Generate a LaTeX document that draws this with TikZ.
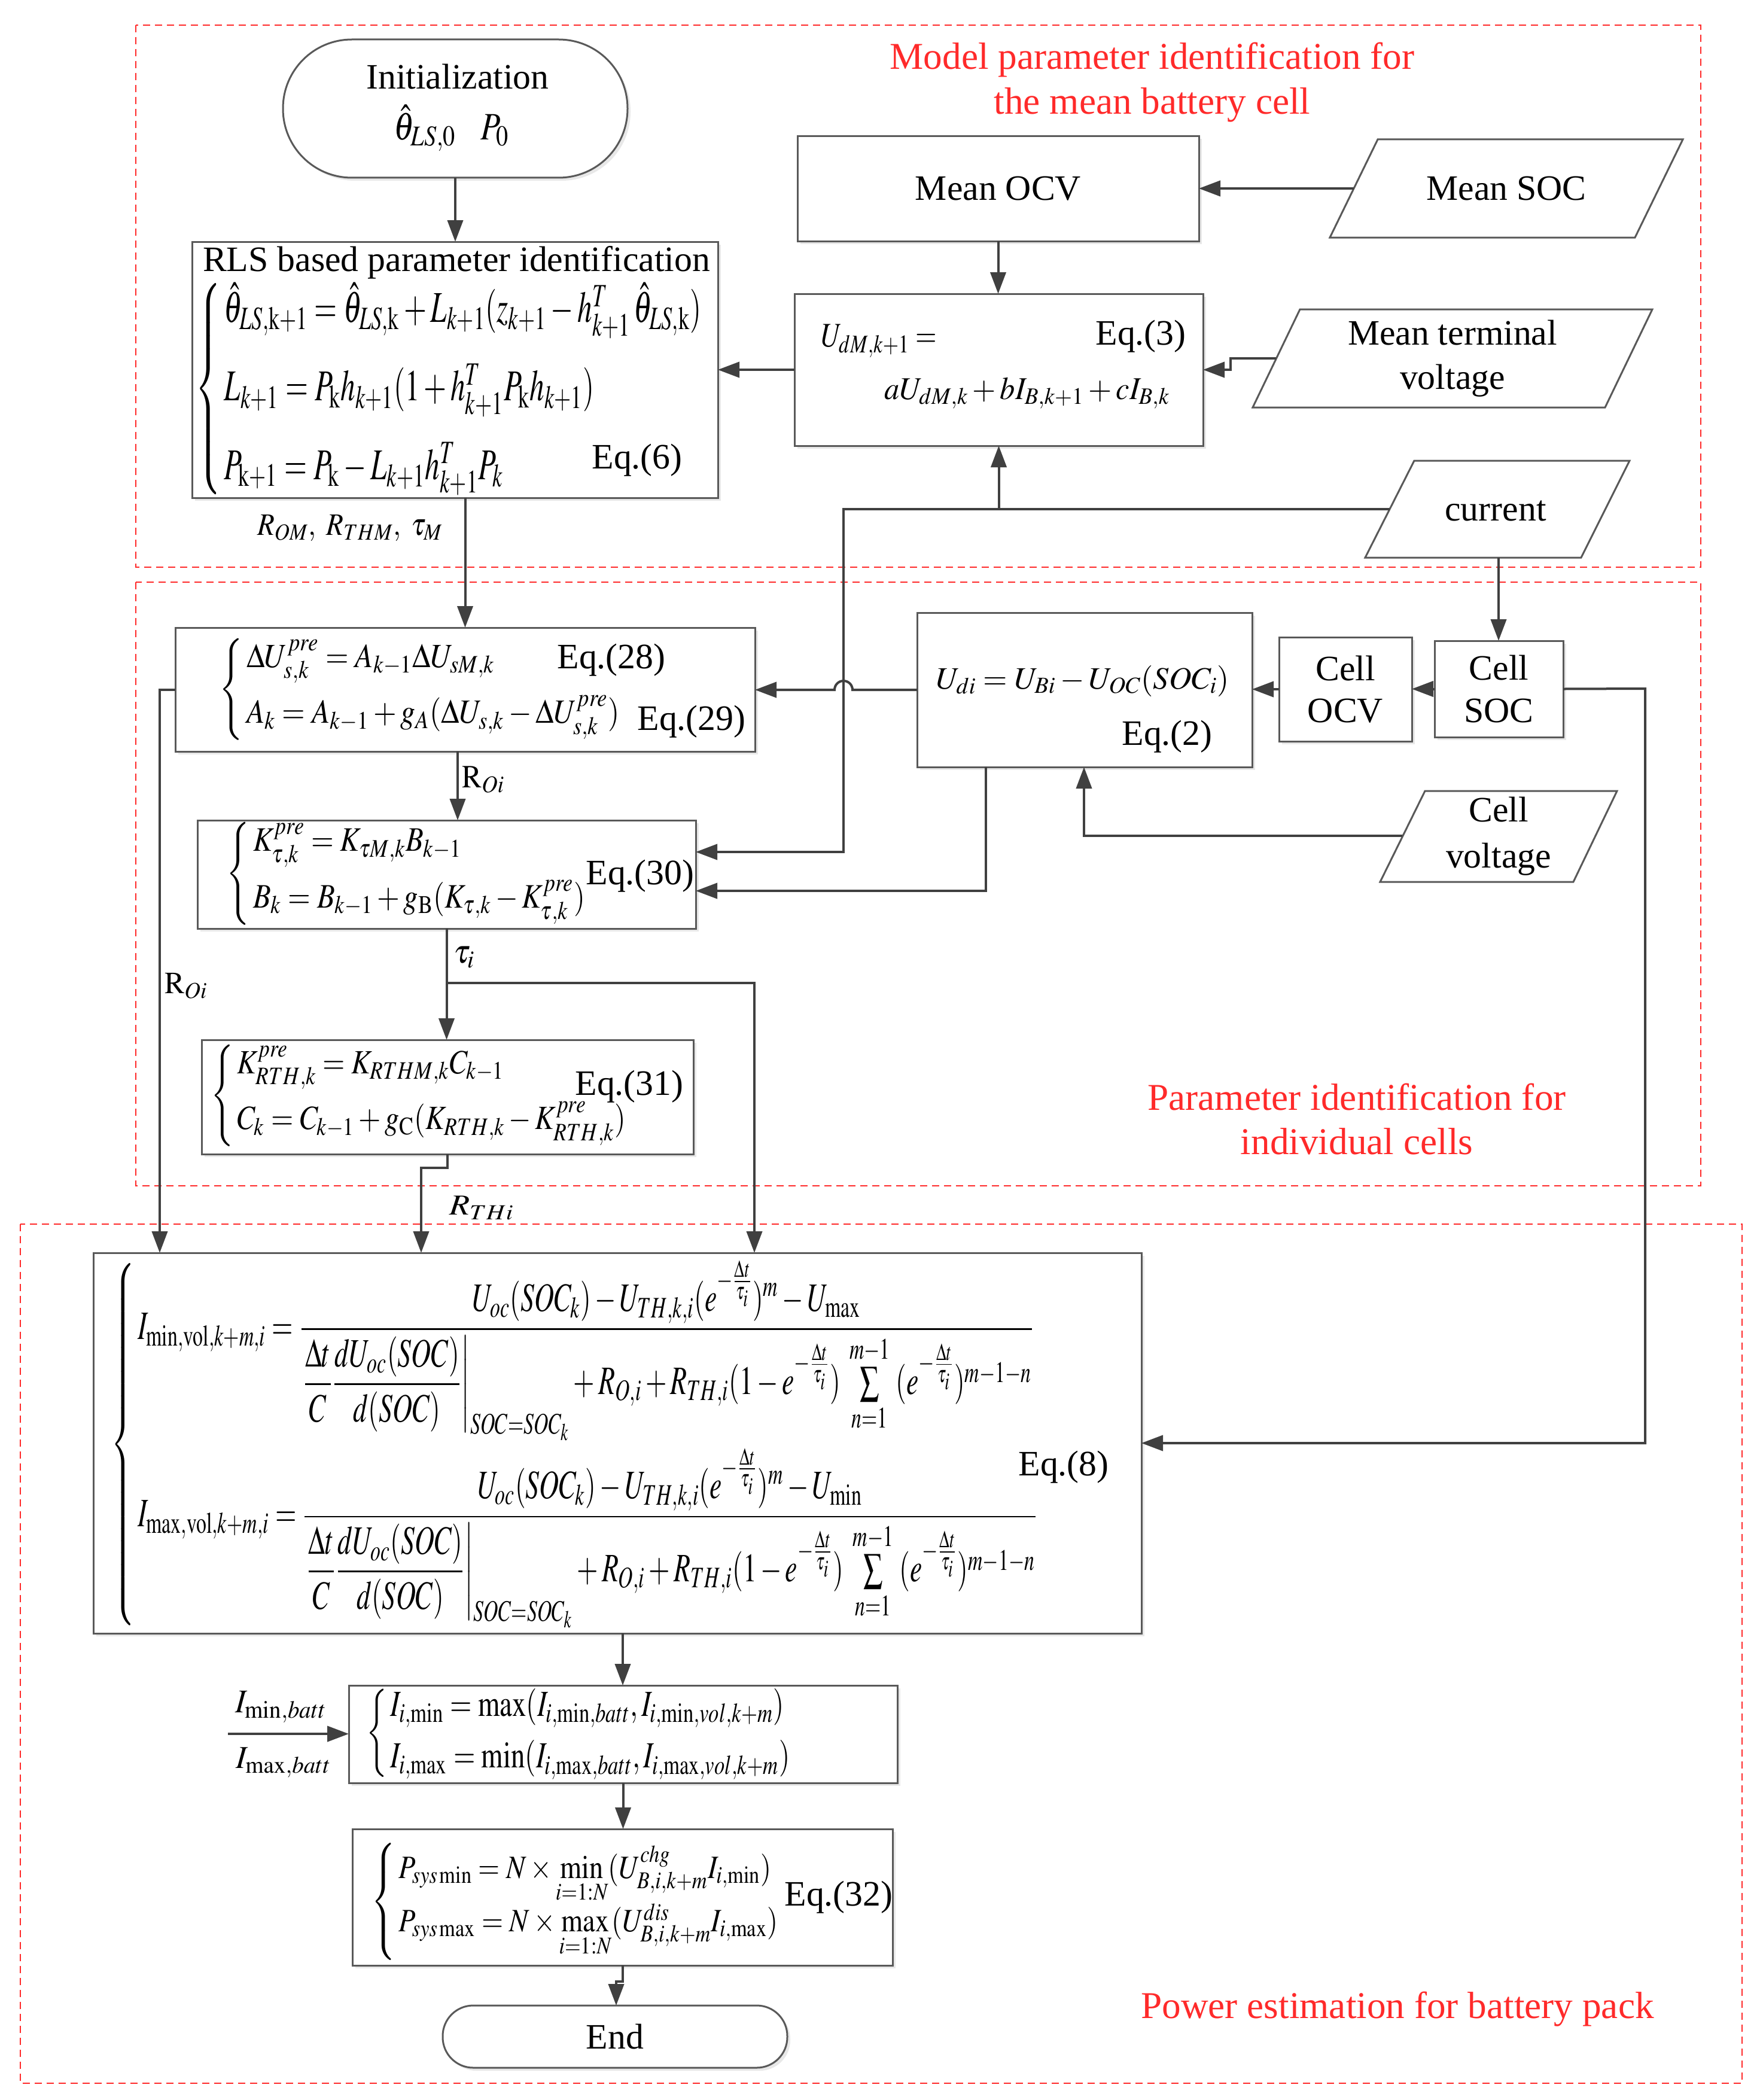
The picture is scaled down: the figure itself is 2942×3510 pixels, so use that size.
\documentclass[tikz,border=0pt]{standalone}
\usepackage{amsmath}
\usepackage{mathptmx}
\usepackage[no-math]{fontspec}
\setmainfont{Liberation Serif}
\usetikzlibrary{arrows.meta,shadows}
\definecolor{ln}{HTML}{404040}
\definecolor{bd}{HTML}{595959}
\definecolor{rd}{HTML}{FF2A2A}
\newcommand{\fitwh}[3]{\resizebox*{#1}{#2}{#3}}
\newcommand{\fitw}[2]{\resizebox{#1}{!}{#2}}
\newcommand{\myexp}{e^{-\frac{\Delta t}{\tau_i}}}
\begin{document}
\begin{tikzpicture}[x=0.1mm,y=-0.1mm,
 every node/.style={inner sep=0pt,outer sep=0pt},
 txt/.style={font=\fontsize{17}{20}\selectfont,text=black},
 redtxt/.style={font=\fontsize{18}{21}\selectfont,text=rd},
 box/.style={draw=bd,line width=0.3mm,fill=white,rectangle,
   drop shadow={shadow xshift=0.5mm,shadow yshift=-0.5mm,fill=black!15,opacity=0.6}},
 conn/.style={draw=ln,line width=0.4mm},
 arr/.style={conn,-{Triangle[length=3.6mm,width=2.6mm]}},
 zone/.style={draw=rd,line width=0.25mm,dash pattern=on 1.2mm off 0.8mm},
 para/.style={draw=bd,line width=0.3mm,fill=white}]
\fill[white] (0,0) rectangle (2942,3510);
\useasboundingbox (0,0) rectangle (2942,3510);

% zones
\draw[zone] (227,42) rectangle (2843,948);
\draw[zone] (227,973) rectangle (2843,1982);
\draw[zone] (34,2046) rectangle (2912,3482);
\node[redtxt] (z1a) at (1926,100) {Model parameter identification for};
\node[redtxt] (z1b) at (1926,175) {the mean battery cell};
\node[redtxt] (z2a) at (2268,1834) {Parameter identification for};
\node[redtxt] (z2b) at (2268,1908) {individual cells};
\node[redtxt] (z3) at (2336,3358) {Power estimation for battery pack};

% boxes
\node[box,rounded corners=11.5mm,minimum width=57.6mm,minimum height=23.1mm] (init) at (761,181.5) {};
\node[txt] (initt) at (765,128) {Initialization};
\node[txt] (initm) at (755,214) {\fitwh{19.3mm}{7.8mm}{$\hat{\theta}_{LS,0}\ \ \ P_0$}};

\node[box,minimum width=87.9mm,minimum height=42.8mm] (rls) at (760.5,618) {};
\node[txt] (rlst) at (763,439) {RLS based parameter identification};
\node[txt] (rlseq) at (751,650) {\fitwh{85mm}{35.6mm}{$\left\{\,\begin{array}{@{}l@{}}
\hat{\theta}_{LS,\mathrm{k}+1}=\hat{\theta}_{LS,\mathrm{k}}+L_{k+1}(z_{k+1}-h^{T}_{k+1}\,\hat{\theta}_{LS,\mathrm{k}})\\[10pt]
L_{k+1}=P_{\mathrm{k}}h_{k+1}(1+h^{T}_{k+1}P_{\mathrm{k}}h_{k+1})\\[10pt]
P_{\mathrm{k}+1}=P_{\mathrm{k}}-L_{k+1}h^{T}_{k+1}P_{k}
\end{array}\right.$}};
\node[txt] (eq6) at (1065,769) {Eq.(6)};

\node[box,minimum width=67.1mm,minimum height=17.6mm,txt] (mocv) at (1668.5,315) {Mean OCV};
\node[box,minimum width=68.3mm,minimum height=25.4mm] (eq3) at (1669.5,618) {};
\node[txt,anchor=west] (eq3a) at (1373,570) {\fitwh{19.3mm}{5.5mm}{$U_{dM,k+1}=$}};
\node[txt] (eq3b) at (1717,657) {\fitwh{47.7mm}{5.3mm}{$aU_{dM,k}+bI_{B,k+1}+cI_{B,k}$}};
\node[txt] (eq3l) at (1907,562) {Eq.(3)};

% parallelograms
\draw[para] (2303,233) -- (2813,233) -- (2733,397) -- (2223,397) -- cycle;
\node[txt] (msoc) at (2518,315) {Mean SOC};
\coordinate (msocL) at (2263,315);
\draw[para] (2173,517) -- (2762,517) -- (2683,681) -- (2094,681) -- cycle;
\node[txt,align=center,font=\fontsize{17}{21}\selectfont] (mtv) at (2428,599) {Mean terminal\\voltage};
\coordinate (mtvL) at (2133,599);
\draw[para] (2364,770) -- (2724,770) -- (2643,932) -- (2282,932) -- cycle;
\node[txt] (cur) at (2500,854) {current};
\coordinate (curL) at (2323,851);
\coordinate (curB) at (2505,932);
\draw[para] (2382,1322) -- (2703,1322) -- (2630,1474) -- (2307,1474) -- cycle;
\node[txt,align=center,font=\fontsize{17}{22}\selectfont] (cv) at (2505,1398) {Cell\\voltage};
\coordinate (cvL) at (2344,1397);

\node[box,minimum width=96.9mm,minimum height=20.7mm] (eq28) at (777.5,1152.5) {};
\node[txt] (eq28m) at (703,1152) {\fitwh{67.3mm}{17mm}{$\left\{\,\begin{array}{@{}l@{}}
\Delta U^{pre}_{s,k}=A_{k-1}\Delta U_{sM,k}\\[8pt]
A_k=A_{k-1}+g_A(\Delta U_{s,k}-\Delta U^{pre}_{s,k})
\end{array}\right.$}};
\node[txt] (eq28l) at (1022,1103) {Eq.(28)};
\node[txt] (eq29l) at (1156,1206) {Eq.(29)};

\node[box,minimum width=56mm,minimum height=25.8mm] (udi) at (1813,1153) {};
\node[txt] (udim) at (1810,1138) {\fitwh{49mm}{5.2mm}{$U_{di}=U_{Bi}-U_{OC}(SOC_i)$}};
\node[txt] (eq2l) at (1951,1231) {Eq.(2)};
\node[box,minimum width=22.2mm,minimum height=17.4mm,txt,align=center] (cocv) at (2249,1152) {Cell\\OCV};
\node[box,minimum width=21.5mm,minimum height=16.1mm,txt,align=center] (csoc) at (2505.5,1151.5) {Cell\\SOC};

\node[box,minimum width=83.3mm,minimum height=18.1mm] (eq30) at (746.5,1461.5) {};
\node[txt] (eq30m) at (680,1460) {\fitwh{60.3mm}{17.2mm}{$\left\{\,\begin{array}{@{}l@{}}
K^{pre}_{\tau,k}=K_{\tau M,k}B_{k-1}\\[8pt]
B_k=B_{k-1}+g_{\mathrm{B}}(K_{\tau,k}-K^{pre}_{\tau,k})
\end{array}\right.$}};
\node[txt] (eq30l) at (1070,1464) {Eq.(30)};

\node[box,minimum width=82.2mm,minimum height=19.1mm] (eq31) at (748,1833.5) {};
\node[txt] (eq31m) at (701,1831) {\fitwh{69.7mm}{17mm}{$\left\{\,\begin{array}{@{}l@{}}
K^{pre}_{RTH,k}=K_{RTHM,k}C_{k-1}\\[8pt]
C_k=C_{k-1}+g_{\mathrm{C}}(K_{RTH,k}-K^{pre}_{RTH,k})
\end{array}\right.$}};
\node[txt] (eq31l) at (1052,1816) {Eq.(31)};

\node[box,minimum width=175.2mm,minimum height=63.6mm] (eq8) at (1032,2412) {};
\node[txt] (eq8m) at (961,2414) {\fitwh{155.2mm}{61.4mm}{$\left\{\,\begin{array}{@{}l@{}}
I_{\mathrm{min,vol},k+m,i}=\dfrac{U_{oc}(SOC_k)-U_{TH,k,i}(\myexp)^{m}-U_{\max}}{\left.\dfrac{\Delta t}{C}\dfrac{dU_{oc}(SOC)}{d(SOC)}\right|_{SOC=SOC_k}+R_{O,i}+R_{TH,i}(1-\myexp)\;\sum\limits_{n=1}^{m-1}\;(\myexp)^{m-1-n}}\\[40pt]
I_{\mathrm{max,vol},k+m,i}=\dfrac{U_{oc}(SOC_k)-U_{TH,k,i}(\myexp)^{m}-U_{\min}}{\left.\dfrac{\Delta t}{C}\dfrac{dU_{oc}(SOC)}{d(SOC)}\right|_{SOC=SOC_k}+R_{O,i}+R_{TH,i}(1-\myexp)\;\sum\limits_{n=1}^{m-1}\;(\myexp)^{m-1-n}}
\end{array}\right.$}};
\node[txt] (eq8l) at (1778,2452) {Eq.(8)};

\node[box,minimum width=91.7mm,minimum height=16.3mm] (imin) at (1041.5,2898.5) {};
\node[txt] (iminm) at (968,2897) {\fitwh{71.1mm}{15.9mm}{$\left\{\,\begin{array}{@{}l@{}}
I_{i,\min}=\max(I_{i,\min,batt},I_{i,\min,vol,k+m})\\[4pt]
I_{i,\max}=\min(I_{i,\max,batt},I_{i,\max,vol,k+m})
\end{array}\right.$}};

\node[box,minimum width=90.3mm,minimum height=22.8mm] (eq32) at (1040.5,3171) {};
\node[txt] (eq32m) at (962,3178) {\fitwh{68.4mm}{19.6mm}{$\left\{\,\begin{array}{@{}l@{}}
P_{sys\min}=N\times\min\limits_{i=1:N}(U^{chg}_{B,i,k+m}I_{i,\min})\\[6pt]
P_{sys\max}=N\times\max\limits_{i=1:N}(U^{dis}_{B,i,k+m}I_{i,\max})
\end{array}\right.$}};
\node[txt] (eq32l) at (1402,3171) {Eq.(32)};

\node[box,rounded corners=5.1mm,minimum width=57.6mm,minimum height=10.4mm,txt] (end) at (1028,3404) {End};

% labels
\node[txt] (lrom) at (585,883) {\fitwh{31mm}{4.4mm}{$R_{OM},\ R_{THM},\ \tau_M$}};
\node[txt] (lroi1) at (808,1303) {\fitwh{7.1mm}{4.5mm}{$\mathrm{R}_{Oi}$}};
\node[txt] (lroi2) at (311,1648) {\fitwh{7.2mm}{4.3mm}{$\mathrm{R}_{Oi}$}};
\node[txt] (ltau) at (776,1600) {\fitwh{3.6mm}{3.6mm}{$\tau_i$}};
\node[txt] (lrth) at (805,2019) {\fitwh{10.8mm}{3.9mm}{$R_{THi}$}};
\node[txt] (limin) at (470,2853) {\fitwh{15.3mm}{5.3mm}{$I_{\mathrm{min},batt}$}};
\node[txt] (limax) at (474,2946) {\fitwh{16mm}{5.1mm}{$I_{\mathrm{max},batt}$}};

% helper coordinates
\coordinate (c1) at (1410,851);
\coordinate (c2) at (1410,1424);
\coordinate (hopR) at (1425,1153);
\coordinate (c4) at (1812,1397);
\coordinate (c5) at (1648,1489);
\coordinate (c6) at (765,1300);
\coordinate (c7) at (267,1153);
\coordinate (c8) at (747,1643);
\coordinate (c9) at (1261,1643);
\coordinate (c10) at (704,1952);
\coordinate (c11) at (2750,1151);
\coordinate (c12) at (1041,2760);
\coordinate (c13) at (1030,3312);
\coordinate (inp) at (381,2898);

% connectors
\draw[arr] (init.south) -- (init.south |- rls.north);
\draw[arr] (msocL) -- (msocL -| mocv.east);
\draw[arr] (mocv.south) -- (mocv.south |- eq3.north);
\draw[arr] (mtvL) -- ++(-76,0) |- (eq3.east);
\draw[arr] (eq3.west) -- (eq3.west -| rls.east);
\draw[arr] (curL) -- (c1) -- (c2) -- (eq30.east |- c2);
\draw[arr] (eq3.south |- curL) -- (eq3.south);
\draw[arr] (curB) -- (curB |- csoc.north);
\draw[arr] (csoc.west) -- (csoc.west -| cocv.east);
\draw[arr] (cocv.west) -- (cocv.west -| udi.east);
\draw[arr] (udi.west) -- (hopR) arc[start angle=0,end angle=180,radius=1.5mm] -- (udi.west -| eq28.east);
\draw[arr] (cvL) -- (c4) -- (c4 |- udi.south);
\draw[arr] (c5 |- udi.south) -- (c5) -- (eq30.east |- c5);
\draw[arr] (rls.south -| eq28.north) -- (eq28.north);
\draw[arr] (eq28.south -| c6) -- (eq30.north -| c6);
\draw[arr] (eq28.west) -- (eq28.west -| c7) -- (c7 |- eq8.north);
\draw[arr] (eq30.south) -- (eq30.south |- eq31.north);
\draw[arr] (c8) -- (c9) -- (c9 |- eq8.north);
\draw[arr] (eq31.south) -- (eq31.south |- c10) -- (c10) -- (c10 |- eq8.north);
\draw[arr] (csoc.east) -- (c11) -- (c11 |- eq8.east) -- (eq8.east);
\draw[arr] (eq8.south -| c12) -- (c12 |- imin.north);
\draw[arr] (imin.south) -- (imin.south |- eq32.north);
\draw[arr] (eq32.south) -- (eq32.south |- c13) -- (c13) -- (c13 |- end.north);
\draw[arr] (inp) -- (inp -| imin.west);
\end{tikzpicture}
\end{document}
